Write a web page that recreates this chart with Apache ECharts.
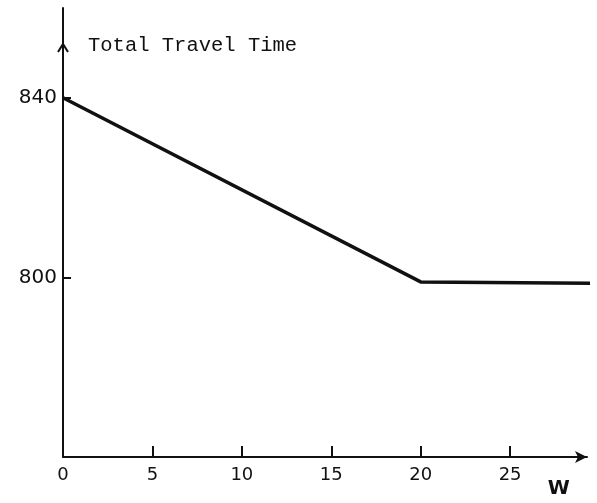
<!DOCTYPE html>
<html><head><meta charset="utf-8">
<script src="https://cdn.jsdelivr.net/npm/echarts@6/dist/echarts.min.js"></script>
<style>html,body{margin:0;padding:0;background:#fff}#c{width:597px;height:503px}</style>
</head><body><div id="c"></div>
<script>
const wValues = [0, 20, 29.9];
const travelTime = [840, 799, 798.7];
const xTicks = [0, 5, 10, 15, 20, 25];
const yTicks = [800, 840];
const yTitle = 'Total Travel Time';
const xTitle = 'W';

const chart = echarts.init(document.getElementById('c'));
const ink = '#111';
chart.setOption({
  animation: false,
  backgroundColor: '#fff',
  grid: {left: 63, right: 10, top: 8, bottom: 46},
  xAxis: {
    type: 'value', min: 0, max: 29.3, interval: 5,
    axisLine: {show: true, lineStyle: {color: ink, width: 2}, symbol: ['none', 'arrow'], symbolSize: [9, 12]},
    axisTick: {show: true, inside: true, length: 11, lineStyle: {color: ink, width: 2}, customValues: xTicks},
    axisLabel: {color: ink, fontFamily: 'DejaVu Sans', fontSize: 18, margin: 9, customValues: xTicks},
    splitLine: {show: false}
  },
  yAxis: {
    type: 'value', min: 760, max: 860, interval: 40,
    axisLine: {show: true, lineStyle: {color: ink, width: 2}},
    axisTick: {show: true, inside: true, length: 8, lineStyle: {color: ink, width: 2}, customValues: yTicks},
    axisLabel: {color: ink, fontFamily: 'DejaVu Sans', fontSize: 20, margin: 6, customValues: yTicks},
    splitLine: {show: false}
  },
  series: [{
    type: 'line',
    data: wValues.map((w, i) => [w, travelTime[i]]),
    symbol: 'none',
    clip: false,
    lineStyle: {color: ink, width: 3.5}
  }]
});

const arrowPos = chart.convertToPixel({gridIndex: 0}, [0, 852]);
const wPos = chart.convertToPixel({gridIndex: 0}, [27.1, 760]);
chart.setOption({
  graphic: [
    {type: 'polyline', shape: {points: [[arrowPos[0] - 5, arrowPos[1] + 8], [arrowPos[0], arrowPos[1]], [arrowPos[0] + 5, arrowPos[1] + 8]]},
     style: {stroke: ink, lineWidth: 2, fill: null}},
    {type: 'text', left: arrowPos[0] + 25, top: arrowPos[1] - 9,
     style: {text: yTitle, fontFamily: 'Liberation Mono', fontSize: 20.5, fill: ink}},
    {type: 'text', left: wPos[0], top: wPos[1] + 22,
     style: {text: xTitle, fontFamily: 'DejaVu Sans', fontWeight: 'bold', fontSize: 20, fill: ink}}
  ]
});
</script></body></html>
